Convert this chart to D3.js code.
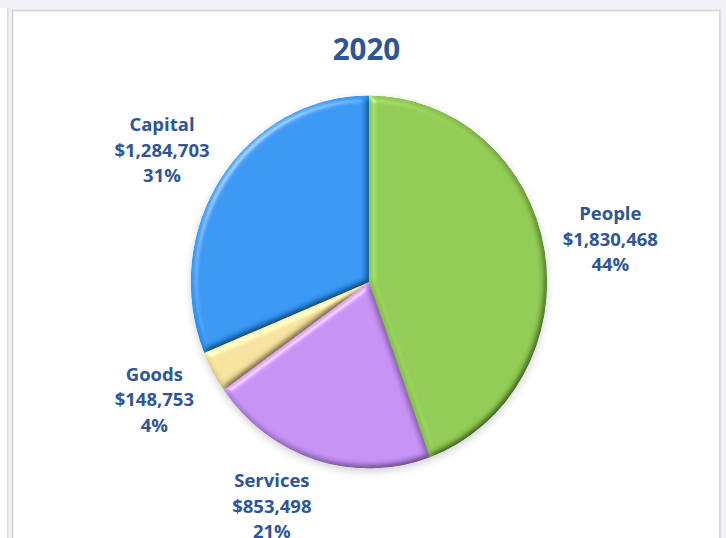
<!DOCTYPE html>
<html>
<head>
<meta charset="utf-8">
<script src="https://cdn.jsdelivr.net/npm/d3@7"></script>
<style>
  html, body { margin: 0; padding: 0; background: #f3f2f8; }
  svg { display: block; }
</style>
</head>
<body>
<svg id="chart" width="726" height="538"></svg>
<script>
// 2020 spending by category
const title = "2020";
const categories = ["People", "Services", "Goods", "Capital"];
const amounts = [1830468, 853498, 148753, 1284703];
const colors = ["#8fcb50", "#c590f5", "#f6e19c", "#3096f3"];

const W = 726, H = 538;
const cx = 369, cy = 282, radius = 178, yStretch = 1.047;
const labelRadius = 245;
// small angular nudges (degrees) so labels clear the neighbouring text
const labelShift = { Services: 6, Capital: -1.5 };

const svg = d3.select("#chart");
const defs = svg.append("defs");

// soft bevel: blurred alpha lit from the upper left, multiplied into the fill
const bevel = defs.append("filter").attr("id", "bevel")
  .attr("x", "-10%").attr("y", "-10%").attr("width", "120%").attr("height", "120%");
bevel.append("feGaussianBlur").attr("in", "SourceAlpha").attr("stdDeviation", 3.2).attr("result", "blur");
bevel.append("feDiffuseLighting").attr("in", "blur").attr("surfaceScale", 4)
  .attr("diffuseConstant", 1).attr("lighting-color", "#ffffff").attr("result", "diffuse")
  .append("feDistantLight").attr("azimuth", 225).attr("elevation", 58);
bevel.append("feSpecularLighting").attr("in", "blur").attr("surfaceScale", 4)
  .attr("specularConstant", 0.5).attr("specularExponent", 28).attr("lighting-color", "#ffffff").attr("result", "spec")
  .append("feDistantLight").attr("azimuth", 225).attr("elevation", 40);
bevel.append("feComposite").attr("in", "spec").attr("in2", "SourceAlpha").attr("operator", "in").attr("result", "specIn");
bevel.append("feComposite").attr("in", "SourceGraphic").attr("in2", "diffuse")
  .attr("operator", "arithmetic").attr("k1", 1.17).attr("k2", 0).attr("k3", 0).attr("k4", 0).attr("result", "lit");
bevel.append("feComposite").attr("in", "lit").attr("in2", "specIn")
  .attr("operator", "arithmetic").attr("k1", 0).attr("k2", 1).attr("k3", 0.6).attr("k4", 0);

const shadow = defs.append("filter").attr("id", "shadow")
  .attr("x", "-20%").attr("y", "-20%").attr("width", "140%").attr("height", "140%");
shadow.append("feGaussianBlur").attr("in", "SourceAlpha").attr("stdDeviation", 4);

// page frame
svg.append("rect").attr("x", 0).attr("y", 8).attr("width", 7.5).attr("height", H - 8)
  .attr("fill", "#ffffff");
svg.append("line").attr("x1", 7.8).attr("x2", 7.8).attr("y1", 8).attr("y2", H)
  .attr("stroke", "#d6d6da").attr("stroke-width", 1.4);
svg.append("rect").attr("x", 12.5).attr("y", 10.5).attr("width", 707.5).attr("height", H)
  .attr("fill", "#ffffff").attr("stroke", "#d3d3d6").attr("stroke-width", 1.6);

svg.append("text")
  .attr("x", 366.5).attr("y", 59.5)
  .attr("text-anchor", "middle")
  .attr("font-family", "'Open Sans', sans-serif")
  .attr("font-weight", 700).attr("font-size", 29.5)
  .attr("fill", "#2e5597")
  .text(title);

const rows = categories.map((c, i) => ({ category: c, amount: amounts[i], color: colors[i] }));
const total = d3.sum(amounts);

const pie = d3.pie().sort(null).value(d => d.amount);
const arcs = pie(rows);
const arc = d3.arc().innerRadius(0).outerRadius(radius);

const g = svg.append("g").attr("transform", `translate(${cx},${cy}) scale(1,${yStretch})`);

g.append("circle").attr("r", radius).attr("cy", 3)
  .attr("fill", "#000").attr("opacity", 0.18).attr("filter", "url(#shadow)");

g.selectAll("path.slice").data(arcs).join("path")
  .attr("class", "slice")
  .attr("d", arc)
  .attr("fill", d => d.data.color)
  .attr("filter", "url(#bevel)");

// data labels: name, amount, share
const money = d3.format("$,");
const pct = d3.format(".0%");
const lineGap = 25.5;

svg.selectAll("text.lbl").data(arcs).join("text")
  .attr("class", "lbl")
  .attr("text-anchor", "middle")
  .attr("font-family", "'Open Sans', sans-serif")
  .attr("font-weight", 700).attr("font-size", 18.5)
  .attr("fill", "#2e5597")
  .each(function (d) {
    const mid = (d.startAngle + d.endAngle) / 2 + (labelShift[d.data.category] || 0) * Math.PI / 180;
    const x = cx + labelRadius * Math.sin(mid);
    const y = cy - labelRadius * Math.cos(mid) + 6;
    const t = d3.select(this);
    [d.data.category, money(d.data.amount), pct(d.data.amount / total)].forEach((s, k) => {
      t.append("tspan").attr("x", x).attr("y", y + (k - 1) * lineGap).text(s);
    });
  });
</script>
</body>
</html>
